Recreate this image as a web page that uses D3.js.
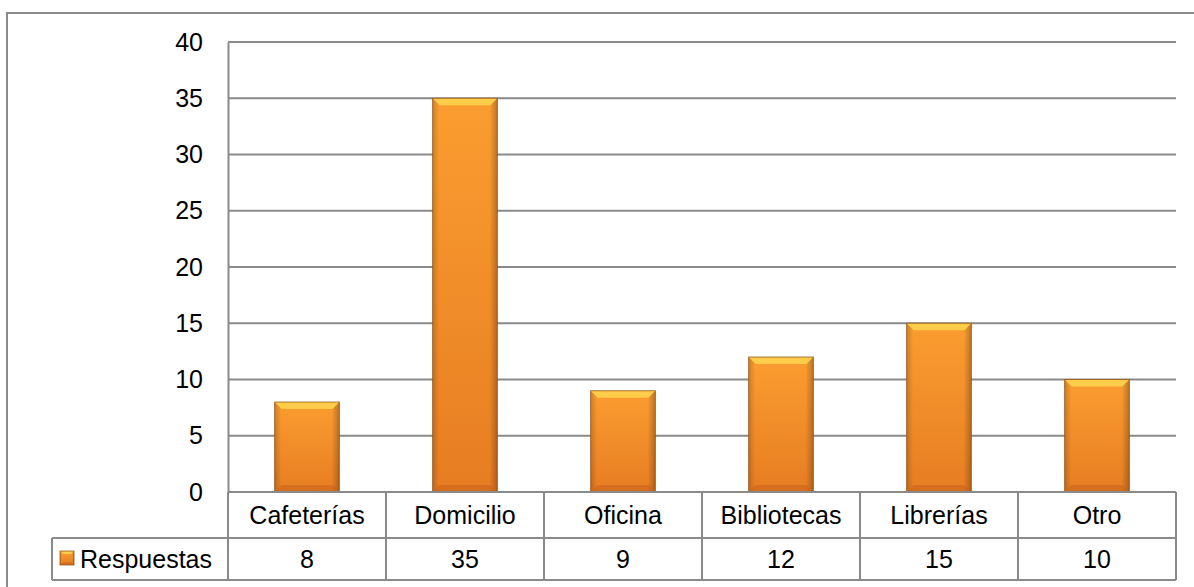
<!DOCTYPE html>
<html>
<head>
<meta charset="utf-8">
<title>Respuestas</title>
<script src="https://d3js.org/d3.v7.min.js"></script>
<style>
  body { margin: 0; background: #fff; }
  svg { display: block; font-family: "Liberation Sans", Arial, sans-serif; }
</style>
</head>
<body>
<svg width="1194" height="587"></svg>
<script>
var categories = ['Cafeterías', 'Domicilio', 'Oficina', 'Bibliotecas', 'Librerías', 'Otro'];
var values = [8, 35, 9, 12, 15, 10];
var seriesName = 'Respuestas';
var yTicks = [0, 5, 10, 15, 20, 25, 30, 35, 40];

var svg = d3.select('svg');
var plotLeft = 228, plotRight = 1176, plotTop = 42, plotBottom = 492;
var rowH = [46, 42];
var legendLeft = 52;
var grey = '#8a8a8a';
var fs = 25;

// gradients for the bevelled bars
var defs = svg.append('defs');
var vg = defs.append('linearGradient').attr('id', 'barFill')
	.attr('x1', 0).attr('y1', 0).attr('x2', 0).attr('y2', 1);
vg.append('stop').attr('offset', '0%').attr('stop-color', '#fb9d30');
vg.append('stop').attr('offset', '100%').attr('stop-color', '#e67d22');
var hg = defs.append('linearGradient').attr('id', 'barSide')
	.attr('x1', 0).attr('y1', 0).attr('x2', 1).attr('y2', 0);
hg.append('stop').attr('offset', '0%').attr('stop-color', '#000').attr('stop-opacity', 0.18);
hg.append('stop').attr('offset', '10%').attr('stop-color', '#000').attr('stop-opacity', 0);
hg.append('stop').attr('offset', '88%').attr('stop-color', '#000').attr('stop-opacity', 0);
hg.append('stop').attr('offset', '100%').attr('stop-color', '#000').attr('stop-opacity', 0.25);

// outer chart border (runs out of frame on the right and bottom)
svg.append('rect')
	.attr('x', 7).attr('y', 13).attr('width', 1220).attr('height', 620)
	.attr('fill', 'none').attr('stroke', grey).attr('stroke-width', 2);

var x = d3.scaleBand().domain(categories).range([plotLeft, plotRight])
	.paddingInner(0.59).paddingOuter(0.295);
var cell = d3.scaleBand().domain(categories).range([plotLeft, plotRight]);
var y = d3.scaleLinear().domain([0, 40]).range([plotBottom, plotTop]);

// gridlines
svg.append('g').selectAll('line').data(yTicks.filter(d => d > 0)).join('line')
	.attr('x1', plotLeft).attr('x2', plotRight)
	.attr('y1', d => y(d)).attr('y2', d => y(d))
	.attr('stroke', grey).attr('stroke-width', 2);

// y axis
var yAxis = svg.append('g').attr('transform', 'translate(' + plotLeft + ',0)')
	.call(d3.axisLeft(y).tickValues(yTicks).tickSize(0).tickPadding(25));
yAxis.select('.domain').attr('stroke', grey).attr('stroke-width', 2);
yAxis.selectAll('text').attr('font-size', fs).attr('fill', '#000')
	.attr('font-family', '"Liberation Sans", Arial, sans-serif');

// bars
var bars = svg.append('g').selectAll('g').data(values).join('g');
function bevel(g, x0, y0, w, h, b) {
	g.append('rect').attr('x', x0).attr('y', y0).attr('width', w).attr('height', h)
		.attr('fill', 'url(#barFill)');
	g.append('rect').attr('x', x0).attr('y', y0).attr('width', w).attr('height', h)
		.attr('fill', 'url(#barSide)');
	g.append('polygon')
		.attr('points', [[x0, y0], [x0 + w, y0], [x0 + w - b, y0 + b], [x0 + b, y0 + b]].join(' '))
		.attr('fill', '#ffcd4a');
	g.append('polygon')
		.attr('points', [[x0, y0 + h], [x0 + w, y0 + h], [x0 + w - b, y0 + h - b], [x0 + b, y0 + h - b]].join(' '))
		.attr('fill', '#c9641a').attr('opacity', 0.6);
	g.append('rect').attr('x', x0).attr('y', y0).attr('width', w).attr('height', h)
		.attr('fill', 'none').attr('stroke', '#8a4a12').attr('stroke-width', 1).attr('stroke-opacity', 0.7);
}
bars.each(function(d, i) {
	var g = d3.select(this);
	var x0 = x(categories[i]), w = x.bandwidth();
	bevel(g, x0, y(d), w, y(0) - y(d), 7);
});

// data table
var t = svg.append('g').attr('stroke', grey).attr('stroke-width', 2);
var r1 = plotBottom + rowH[0], r2 = r1 + rowH[1];
t.append('line').attr('x1', plotLeft).attr('x2', plotRight).attr('y1', plotBottom).attr('y2', plotBottom);
t.append('line').attr('x1', legendLeft).attr('x2', plotRight).attr('y1', r1).attr('y2', r1);
t.append('line').attr('x1', legendLeft).attr('x2', plotRight).attr('y1', r2).attr('y2', r2);
t.append('line').attr('x1', legendLeft).attr('x2', legendLeft).attr('y1', r1).attr('y2', r2);
t.selectAll('.col').data(categories.concat(['end'])).join('line').attr('class', 'col')
	.attr('x1', (d, i) => plotLeft + i * cell.step()).attr('x2', (d, i) => plotLeft + i * cell.step())
	.attr('y1', plotBottom).attr('y2', r2);

svg.append('g').selectAll('text').data(categories).join('text')
	.attr('x', d => cell(d) + cell.bandwidth() / 2).attr('y', plotBottom + rowH[0] / 2)
	.attr('dy', '0.35em').attr('text-anchor', 'middle').attr('font-size', fs)
	.text(d => d);
svg.append('g').selectAll('text').data(values).join('text')
	.attr('x', (d, i) => cell(categories[i]) + cell.bandwidth() / 2).attr('y', r1 + rowH[1] / 2)
	.attr('dy', '0.35em').attr('text-anchor', 'middle').attr('font-size', fs)
	.text(d => d);

// legend key in the table
bevel(svg.append('g'), 60, r1 + 13, 14, 14, 3);
svg.append('text').attr('x', 80).attr('y', r1 + rowH[1] / 2).attr('dy', '0.35em')
	.attr('font-size', fs).text(seriesName);
</script>
</body>
</html>
